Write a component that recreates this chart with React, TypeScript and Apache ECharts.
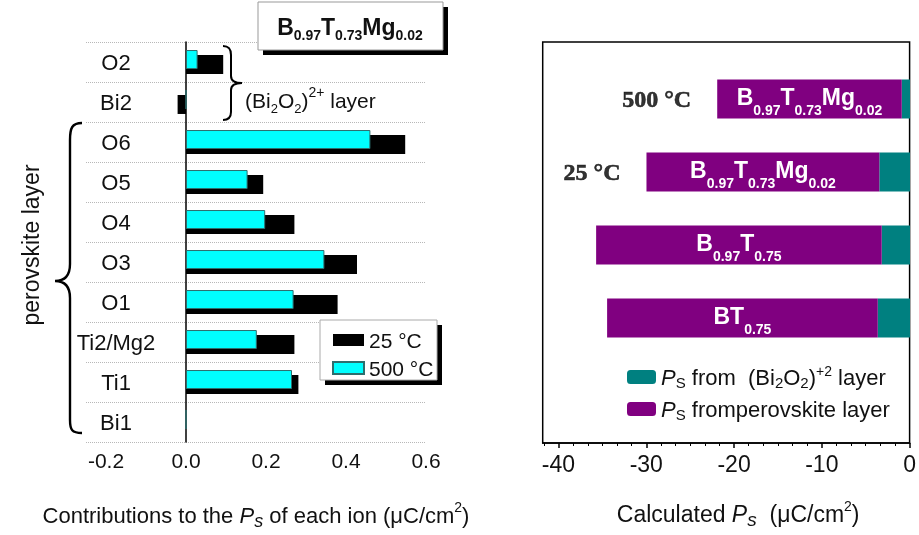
import React, { useEffect, useRef } from 'react';
import * as echarts from 'echarts';

// ---------- Left chart data ----------
const ions = ['O2', 'Bi2', 'O6', 'O5', 'O4', 'O3', 'O1', 'Ti2/Mg2', 'Ti1', 'Bi1'];
const ps25C = [0.093, -0.021, 0.548, 0.193, 0.271, 0.4275, 0.379, 0.271, 0.281, 0];
const ps500C = [0.029, 0, 0.461, 0.154, 0.198, 0.346, 0.269, 0.177, 0.265, 0];
const leftMajorTicks = [-0.2, 0, 0.2, 0.4, 0.6];
const leftMinorTicks = [-0.24, -0.16, -0.12, -0.08, -0.04, 0.04, 0.08, 0.12, 0.16, 0.24, 0.28, 0.32, 0.36, 0.44, 0.48, 0.52, 0.56];

// ---------- Right chart data ----------
const samples = ['B0.97T0.73Mg0.02 500C', 'B0.97T0.73Mg0.02 25C', 'B0.97T0.75', 'BT0.75'];
const sampleLabels = [
  '{b|B}{s|0.97}{b|T}{s|0.73}{b|Mg}{s|0.02}',
  '{b|B}{s|0.97}{b|T}{s|0.73}{b|Mg}{s|0.02}',
  '{b|B}{s|0.97}{b|T}{s|0.75}',
  '{b|BT}{s|0.75}',
];
const temps = ['500 °C', '25 °C', '', ''];
const psBi2O2Layer = [-0.94, -3.49, -3.22, -3.67];
const psPerovskite = [-21.0, -26.5, -32.5, -30.8];
const rightMajorTicks = [-40, -30, -20, -10, 0];

const FONT = "'Liberation Sans', Arial, Helvetica, sans-serif";

function buildRightMinor(): number[] {
  const out: number[] = [];
  for (let k = -25; k <= -1; k++) {
    if (k % 6 !== 0) out.push((k * 10) / 6);
  }
  return out;
}

const braceL = 'M82,123 C72,123 70,128 70,140 L70,264 C70,276 64,281 55,281 C64,281 70,286 70,298 L70,420 C70,430 72,433 82,433';
const braceR = 'M223,46 C229,46 231,49 231,55 L231,76 C231,81 235,83 242,83 C235,83 231,85 231,90 L231,112 C231,117 229,120 223,120';

let registered = false;
function registerShapes() {
  if (registered) return;
  echarts.graphic.registerShape('braceL', echarts.graphic.extendPath(braceL, {}));
  echarts.graphic.registerShape('braceR', echarts.graphic.extendPath(braceR, {}));
  registered = true;
}

export default function App() {
  const ref = useRef<HTMLDivElement>(null);
  useEffect(() => {
    if (!ref.current) return;
    registerShapes();
    const chart = echarts.init(ref.current, undefined, { renderer: 'svg' });
    const rightMinorTicks = buildRightMinor();

    const nameRich = (fs: number) => ({
      n: { fontSize: fs, color: '#111', lineHeight: 30, verticalAlign: 'middle', fontFamily: FONT },
      i: { fontSize: fs, color: '#111', lineHeight: 30, verticalAlign: 'middle', fontStyle: 'italic', fontFamily: FONT },
      sb: { fontSize: fs - 4, color: '#111', lineHeight: 10, verticalAlign: 'bottom', fontStyle: 'italic', fontFamily: FONT },
      sp: { fontSize: 14, color: '#111', lineHeight: 10, verticalAlign: 'top', fontFamily: FONT },
    });

    const legendRich = {
      n: { fontSize: 22, color: '#111', lineHeight: 26, verticalAlign: 'middle', fontFamily: FONT },
      i: { fontSize: 22, color: '#111', lineHeight: 26, verticalAlign: 'middle', fontStyle: 'italic', fontFamily: FONT },
      sb: { fontSize: 15, color: '#111', lineHeight: 8, verticalAlign: 'bottom', fontFamily: FONT },
      sp: { fontSize: 14, color: '#111', lineHeight: 12, verticalAlign: 'top', fontFamily: FONT },
    };
    const legendNames: Record<string, string> = {
      Bi2O2: '{i|P}{sb|S}{n| from  (Bi}{sb|2}{n|O}{sb|2}{n|)}{sp|+2}{n| layer}',
      perovskite: '{i|P}{sb|S}{n| fromperovskite layer}',
    };

    const tempData = temps
      .map((t, i) => (t ? [psBi2O2Layer[i] + psPerovskite[i], i] : null))
      .filter((d) => d !== null);

    const option: any = {
      animation: false,
      textStyle: { fontFamily: FONT },
      grid: [
        { left: 86, top: 42, width: 340, height: 400 },
        { left: 542.7, top: 42, width: 367.3, height: 401, show: true, borderColor: '#000', borderWidth: 1.5, backgroundColor: 'transparent' },
        { left: 542.7, top: 62.5, width: 367.3, height: 292 },
      ],
      xAxis: [
        {
          gridIndex: 0, type: 'value', min: -0.25, max: 0.6, position: 'bottom',
          axisLine: { onZero: false, lineStyle: { color: '#000', width: 1.5 } },
          axisTick: { customValues: leftMajorTicks, length: 5, lineStyle: { color: '#000', width: 1.5 } },
          axisLabel: { customValues: leftMajorTicks, formatter: (v: number) => v.toFixed(1), fontSize: 21, color: '#111', margin: 8 },
          splitLine: { show: false },
          name: '{n|Contributions to the }{i|P}{sb|s}{n| of each ion (μC/cm}{sp|2}{n|)}',
          nameLocation: 'middle', nameGap: 58,
          nameTextStyle: { rich: nameRich(22) },
        },
        {
          gridIndex: 0, type: 'value', min: -0.25, max: 0.6, position: 'bottom',
          axisLine: { show: false, onZero: false },
          axisTick: { customValues: leftMinorTicks, length: 3, lineStyle: { color: '#000', width: 1 } },
          axisLabel: { show: false }, splitLine: { show: false },
        },
        {
          gridIndex: 1, type: 'value', min: -41.8, max: 0, position: 'bottom',
          axisLine: { onZero: false, lineStyle: { color: '#000', width: 1.5 } },
          axisTick: { customValues: rightMajorTicks, length: 5, lineStyle: { color: '#000', width: 1.5 } },
          axisLabel: { customValues: rightMajorTicks, fontSize: 23, color: '#111', margin: 9 },
          splitLine: { show: false },
          name: '{n|Calculated }{i|P}{sb|s}{n|  (μC/cm}{sp|2}{n|)}',
          nameLocation: 'middle', nameGap: 56,
          nameTextStyle: { rich: nameRich(23), padding: [0, 0, 0, 24] },
        },
        {
          gridIndex: 1, type: 'value', min: -41.8, max: 0, position: 'bottom',
          axisLine: { show: false, onZero: false },
          axisTick: { customValues: rightMinorTicks, length: 3, lineStyle: { color: '#000', width: 1 } },
          axisLabel: { show: false }, splitLine: { show: false },
        },
        { gridIndex: 2, type: 'value', min: -41.8, max: 0, show: false },
      ],
      yAxis: [
        {
          gridIndex: 0, type: 'category', data: ions, inverse: true, position: 'left',
          axisLine: { onZero: true, lineStyle: { color: '#000', width: 1.5 } },
          axisTick: { inside: true, length: 6, interval: 0, lineStyle: { color: '#000', width: 1.2 } },
          axisLabel: { show: false, interval: 0 },
          splitLine: { show: true, interval: 0, lineStyle: { type: 'dotted', color: '#b8b8b8', width: 1 } },
        },
        {
          gridIndex: 0, type: 'category', data: ions, inverse: true, position: 'left',
          axisLine: { show: false, onZero: false },
          axisTick: { show: false },
          axisLabel: { inside: true, align: 'center', margin: 30, fontSize: 22, color: '#111', interval: 0 },
          splitLine: { show: false },
        },
        { gridIndex: 1, type: 'value', min: 0, max: 1, show: false },
        { gridIndex: 2, type: 'category', data: samples, inverse: true, show: false },
      ],
      legend: [
        {
          data: ['25 °C', '500 °C'], orient: 'vertical', left: 332, top: 329, z: 20,
          itemWidth: 31, itemHeight: 12, itemGap: 6, icon: 'rect', selectedMode: false, padding: 0,
          textStyle: { fontSize: 21, color: '#111', lineHeight: 22 },
        },
        {
          data: ['Bi2O2', 'perovskite'], orient: 'vertical', left: 627, top: 364, z: 20,
          itemWidth: 29, itemHeight: 14, itemGap: 8, icon: 'roundRect', selectedMode: false, padding: 0,
          formatter: (n: string) => legendNames[n],
          textStyle: { rich: legendRich },
        },
      ],
      series: [
        {
          type: 'bar', name: '500 °C', xAxisIndex: 0, yAxisIndex: 0, data: ps500C,
          barWidth: 19, barGap: '-74%', itemStyle: { color: '#00ffff', borderColor: '#2d6e6e', borderWidth: 1 }, z: 3,
        },
        {
          type: 'bar', name: '25 °C', xAxisIndex: 0, yAxisIndex: 0, data: ps25C,
          barWidth: 19, barGap: '-74%', itemStyle: { color: '#000' }, z: 2,
        },
        {
          type: 'bar', name: 'Bi2O2', xAxisIndex: 4, yAxisIndex: 3, stack: 'ps', data: psBi2O2Layer,
          barWidth: 39, itemStyle: { color: '#008080' },
        },
        {
          type: 'bar', name: 'perovskite', xAxisIndex: 4, yAxisIndex: 3, stack: 'ps', data: psPerovskite,
          barWidth: 39, itemStyle: { color: '#800080' },
          label: {
            show: true, position: 'inside', offset: [0, -2],
            formatter: (p: any) => sampleLabels[p.dataIndex],
            rich: {
              b: { fontSize: 23, fontWeight: 'bold', color: '#fff', lineHeight: 40, verticalAlign: 'middle', fontFamily: FONT },
              s: { fontSize: 14, fontWeight: 'bold', color: '#fff', lineHeight: 14, verticalAlign: 'bottom', fontFamily: FONT },
            },
          },
        },
        {
          type: 'scatter', xAxisIndex: 4, yAxisIndex: 3, data: tempData, symbolSize: 0,
          itemStyle: { color: '#000' }, silent: true,
          label: {
            show: true, position: 'left', distance: 26,
            formatter: (p: any) => temps[p.data[1]],
            fontFamily: "'Liberation Serif', 'Times New Roman', serif", fontWeight: 'bold', fontSize: 24, color: '#000',
            textBorderColor: '#000', textBorderWidth: 0.6,
          },
        },
      ],
      graphic: [
        { type: 'rect', z: 5, shape: { x: 263, y: 7, width: 185, height: 48 }, style: { fill: '#000' } },
        { type: 'rect', z: 6, shape: { x: 258, y: 2, width: 185, height: 48 }, style: { fill: '#fff', stroke: '#999', lineWidth: 1 } },
        {
          type: 'text', z: 7, x: 350, y: 27,
          style: {
            text: '{b|B}{s|0.97}{b|T}{s|0.73}{b|Mg}{s|0.02}', align: 'center', verticalAlign: 'middle',
            rich: {
              b: { fontSize: 23, fontWeight: 'bold', fill: '#111', lineHeight: 30, verticalAlign: 'middle', fontFamily: FONT },
              s: { fontSize: 14, fontWeight: 'bold', fill: '#111', lineHeight: 10, verticalAlign: 'bottom', fontFamily: FONT },
            },
          },
        },
        { type: 'braceR', z: 7, style: { stroke: '#000', lineWidth: 2, fill: 'none' } },
        {
          type: 'text', z: 7, x: 245, y: 100,
          style: {
            text: '{n|(Bi}{sb|2}{n|O}{sb|2}{n|)}{sp|2+}{n| layer}', align: 'left', verticalAlign: 'middle',
            rich: {
              n: { fontSize: 21, fill: '#111', lineHeight: 30, verticalAlign: 'middle', fontFamily: FONT },
              sb: { fontSize: 13, fill: '#111', lineHeight: 18, verticalAlign: 'bottom', fontFamily: FONT },
              sp: { fontSize: 14, fill: '#111', lineHeight: 14, verticalAlign: 'top', fontFamily: FONT },
            },
          },
        },
        { type: 'braceL', z: 7, style: { stroke: '#000', lineWidth: 2.4, fill: 'none' } },
        {
          type: 'text', z: 7, x: 31, y: 245, rotation: Math.PI / 2,
          style: { text: 'perovskite layer', align: 'center', verticalAlign: 'middle', fontSize: 23, fill: '#111', fontFamily: FONT },
        },
        { type: 'rect', z: 8, shape: { x: 325, y: 325, width: 117, height: 60 }, style: { fill: '#000' } },
        { type: 'rect', z: 9, shape: { x: 320, y: 320, width: 117, height: 60 }, style: { fill: '#fff', stroke: '#aaa', lineWidth: 1 } },
      ],
    };
    chart.setOption(option);
    return () => chart.dispose();
  }, []);
  return <div ref={ref} style={{ position: 'fixed', left: 0, top: 0, width: 919, height: 535 }} />;
}
